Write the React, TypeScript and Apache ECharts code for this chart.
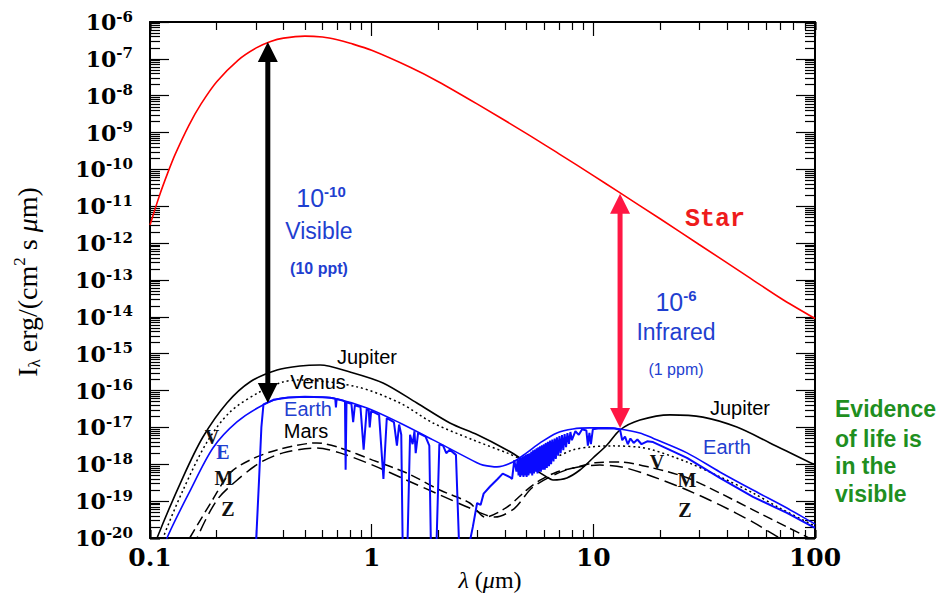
import React, { useEffect, useRef } from "react";
import * as echarts from "echarts";

// ---------- data (wavelength in micron, intensity in erg/(cm2 s um)) ----------
const starLambda = [0.1, 0.11, 0.12, 0.13, 0.15, 0.17, 0.2, 0.25, 0.3, 0.35, 0.4, 0.5, 0.6, 0.7, 0.8, 1, 1.5, 2, 3, 5, 7, 10, 13, 20, 30, 50, 70, 100];
const starValue = [3.1e-12, 1.85e-11, 7.8e-11, 2.6e-10, 1.6e-9, 6.0e-9, 2.4e-8, 9.3e-8, 1.95e-7, 2.95e-7, 3.65e-7, 4.15e-7, 3.9e-7, 3.3e-7, 2.65e-7, 1.7e-7, 5.8e-8, 2.4e-8, 5.9e-9, 9.4e-10, 2.65e-10, 6.8e-11, 2.45e-11, 4.6e-12, 9.2e-13, 1.22e-13, 3.2e-14, 9e-15];

const jupiterLambda = [0.105, 0.1076, 0.141, 0.1733, 0.2223, 0.2823, 0.3741, 0.4752, 0.5848, 0.7983, 1.125, 1.6, 2.254, 3.0, 4.076, 4.664, 5.343, 6.177, 6.573, 7.6, 8.7, 9.96, 11.52, 13.18, 16.23, 22.17, 31.2, 44.4, 62.6, 95.3, 100];
const jupiterValue = [5.0e-21, 1.0e-20, 4.5e-19, 5.5e-18, 4.6e-17, 1.71e-16, 3.62e-16, 4.65e-16, 4.94e-16, 3.2e-16, 1.61e-16, 4.6e-17, 1.32e-17, 6.3e-18, 2.45e-18, 1.48e-18, 7.9e-19, 4.5e-19, 3.76e-19, 4.27e-19, 7.0e-19, 1.48e-18, 3.34e-18, 8.5e-18, 1.58e-17, 2.19e-17, 1.9e-17, 1.02e-17, 3.8e-18, 1.1e-18, 1.0e-18];

const venusLambda = [0.112, 0.1145, 0.141, 0.1807, 0.2296, 0.3133, 0.3981, 0.4752, 0.859, 1.342, 1.891, 2.864, 4.076, 4.9, 5.8, 6.9, 8.09, 9.66, 12.25, 16.2, 18.57, 26.45, 37.2, 52.5, 68, 97.9, 100];
const venusValue = [5e-21, 1.0e-20, 2.0e-19, 4.0e-18, 2.63e-17, 9.3e-17, 1.71e-16, 1.94e-16, 1.26e-16, 4.6e-17, 1.32e-17, 4.6e-18, 2.04e-18, 1.32e-18, 1.26e-18, 1.66e-18, 2.45e-18, 2.95e-18, 3.16e-18, 2.9e-18, 2.45e-18, 1.15e-18, 4.6e-19, 1.66e-19, 6.9e-20, 2.24e-20, 2.1e-20];

const earthEnvLambda = [0.117, 0.1193, 0.1514, 0.1923, 0.2468, 0.3236, 0.3981, 0.5662, 0.6683, 0.9527, 1.342, 1.891, 2.985, 3.18, 3.675, 4.34, 5.0, 5.75, 6.85, 8.09, 9.66, 11.5, 13.18, 16.2, 18.57, 26.45, 37.2, 52.5, 74.7, 97.9, 100];
const earthEnvValue = [5e-21, 1.0e-20, 1.87e-19, 2.77e-18, 1.41e-17, 4.06e-17, 6.3e-17, 6.7e-17, 6.3e-17, 3.37e-17, 1.32e-17, 4.6e-18, 1.1e-18, 9.5e-19, 8.5e-19, 1.15e-18, 2.04e-18, 3.8e-18, 7.1e-18, 9.1e-18, 9.7e-18, 9.7e-18, 9.1e-18, 7.1e-18, 5.1e-18, 2.04e-18, 6.2e-19, 2.0e-19, 6.5e-20, 2.57e-20, 2.4e-20];

// detailed Earth spectrum, visible / near-IR part (absorption bands)
const earthSpecVisLambda = [0.300, 0.310, 0.318, 0.325, 0.36, 0.42, 0.50, 0.60, 0.66, 0.685, 0.69, 0.695, 0.74, 0.758, 0.763, 0.770, 0.81, 0.825, 0.84, 0.89, 0.92, 0.95, 0.97, 0.98, 0.995, 1.08, 1.13, 1.17, 1.26, 1.30, 1.33, 1.36, 1.38, 1.45, 1.49, 1.53, 1.56, 1.58, 1.62, 1.75, 1.82, 1.85, 1.96, 2.02, 2.10, 2.17, 2.25, 2.40, 2.48, 2.75, 2.86, 2.99, 3.10, 3.20, 3.42, 3.70, 3.90, 4.20, 4.30, 4.40];
const earthSpecVisValue = [5.0e-21, 3.2e-19, 1.0e-17, 4.2e-17, 5.6e-17, 6.5e-17, 6.8e-17, 6.6e-17, 6.3e-17, 6.0e-17, 3.5e-17, 5.9e-17, 5.4e-17, 5.0e-17, 7.1e-19, 4.8e-17, 4.4e-17, 1.4e-17, 4.0e-17, 3.6e-17, 2.5e-18, 3.2e-17, 3.0e-17, 1.0e-17, 2.8e-17, 2.2e-17, 4.0e-19, 1.8e-17, 1.4e-17, 3.2e-18, 1.2e-17, 6.3e-18, 6.3e-21, 6.3e-21, 6.3e-18, 3.5e-18, 7.9e-18, 2.0e-18, 7.1e-18, 5.6e-18, 3.2e-18, 6.3e-21, 6.3e-21, 3.5e-18, 3.2e-18, 2.0e-18, 2.5e-18, 1.8e-18, 6.3e-21, 6.3e-21, 2.0e-20, 8.9e-20, 7.9e-20, 1.6e-19, 2.5e-19, 4.0e-19, 5.6e-19, 4.5e-19, 4.0e-19, 1.3e-18];
// detailed Earth spectrum, thermal-IR part (dense noisy band 4.5-8 um, O3 and CO2 features)
const earthSpecIrLambda = [4.50, 4.55, 4.60, 4.64, 4.68, 4.72, 4.76, 4.80, 4.84, 4.88, 4.92, 4.96, 5.00, 5.05, 5.10, 5.15, 5.20, 5.25, 5.30, 5.35, 5.40, 5.45, 5.50, 5.55, 5.60, 5.65, 5.70, 5.75, 5.80, 5.86, 5.92, 5.98, 6.04, 6.10, 6.17, 6.24, 6.31, 6.38, 6.45, 6.53, 6.61, 6.69, 6.77, 6.85, 6.94, 7.03, 7.12, 7.22, 7.32, 7.42, 7.53, 7.64, 7.76, 7.88, 8.00, 8.30, 8.60, 8.90, 9.30, 9.45, 9.60, 9.75, 9.95, 10.5, 11.5, 12.5, 13.2, 13.5, 13.9, 14.3, 14.7, 15.2, 15.8, 16.5, 17.5, 18.6, 26.45, 37.2, 52.5, 74.7, 97.9, 100];
const earthSpecIrValue = [6.3e-19, 1.3e-18, 5.0e-19, 1.4e-18, 4.5e-19, 1.5e-18, 5.0e-19, 1.6e-18, 4.5e-19, 1.7e-18, 5.0e-19, 1.8e-18, 4.5e-19, 1.9e-18, 5.0e-19, 2.0e-18, 5.6e-19, 2.2e-18, 5.0e-19, 2.4e-18, 5.6e-19, 2.5e-18, 6.3e-19, 2.7e-18, 5.6e-19, 2.9e-18, 6.3e-19, 3.1e-18, 6.3e-19, 3.3e-18, 7.1e-19, 3.5e-18, 7.1e-19, 3.8e-18, 7.9e-19, 4.1e-18, 8.9e-19, 4.4e-18, 1.0e-18, 4.7e-18, 1.2e-18, 5.0e-18, 1.4e-18, 5.4e-18, 1.7e-18, 5.8e-18, 2.0e-18, 6.2e-18, 2.4e-18, 6.6e-18, 2.9e-18, 7.0e-18, 3.6e-18, 7.5e-18, 4.5e-18, 7.9e-18, 6.3e-18, 8.9e-18, 8.3e-18, 3.2e-18, 7.1e-18, 3.5e-18, 8.9e-18, 9.3e-18, 9.5e-18, 9.3e-18, 8.7e-18, 4.5e-18, 5.6e-18, 3.5e-18, 5.0e-18, 3.8e-18, 4.7e-18, 3.5e-18, 4.2e-18, 4.0e-18, 1.5e-18, 4.3e-19, 1.3e-19, 4.8e-20, 2.0e-20, 1.9e-20];

const marsLambda = [0.151, 0.19, 0.2296, 0.2823, 0.3741, 0.5662, 0.719, 1.01, 1.44, 2.03, 2.77, 3.25, 4.08, 5.0, 5.75, 6.85, 8.1, 10.2, 13.2, 18.6, 26.5, 37.2, 52.5, 74.7, 91.9, 100];
const marsValue = [1.0e-20, 1.0e-19, 5.8e-19, 1.3e-18, 2.45e-18, 3.8e-18, 2.8e-18, 1.3e-18, 5.8e-19, 2.0e-19, 8.9e-20, 3.7e-20, 6.9e-20, 2.0e-19, 3.7e-19, 6.2e-19, 7.9e-19, 1.1e-18, 1.15e-18, 7.9e-19, 4.3e-19, 1.66e-19, 5.8e-20, 2.0e-20, 1.07e-20, 7.9e-21];

const zLambda = [0.16, 0.163, 0.2005, 0.2468, 0.3133, 0.3981, 0.566, 0.719, 1.01, 1.44, 2.03, 2.77, 3.6, 4.4, 5.34, 7.6, 10.7, 13.6, 18.6, 26.5, 37.2, 52.5, 68, 80];
const zValue = [5e-21, 1.0e-20, 1.07e-19, 3.7e-19, 1.1e-18, 2.04e-18, 2.75e-18, 2.04e-18, 9.5e-19, 3.7e-19, 1.48e-19, 6.5e-20, 3.7e-20, 6.3e-20, 2.4e-19, 7.1e-19, 9.5e-19, 8.3e-19, 4.6e-19, 2.0e-19, 7.9e-20, 2.7e-20, 1.07e-20, 6.3e-21];

// contrast arrows: wavelength, star level (top tip), planet level (bottom tip)
const arrowLambda = [0.34, 13.2];
const arrowTop = [2.85e-7, 2.2e-11];
const arrowBottom = [4.6e-17, 9.6e-18];

// axis extents in decades (exponents) and log minor-tick multipliers
const yExpMin = -20, yExpMax = -6;
const xExpMin = -1, xExpMax = 2;
const minorMultipliers = [2, 3, 4, 5, 6, 7, 8, 9];

// ---------- layout / styles ----------
const GRID = { left: 150, top: 22, width: 665, height: 516 };
const BLUE_LINE = "#0a0aff";
const BLUE_TEXT = "#1f3fd0";
const RED_LINE = "#ff0000";
const ARROW_COLORS = ["#000000", "#ff1744"];
const GREEN = "#1f8f1f";

const toPairs = (xs: number[], ys: number[]) => xs.map((x, i) => [x, ys[i]]);

function txt(x: number, y: number, text: string, style: any, extra: any = {}) {
  return {
    type: "text",
    x,
    y,
    z: 100,
    ...extra,
    style: {
      text,
      align: "center",
      verticalAlign: "middle",
      textAlign: "center",
      textVerticalAlign: "middle",
      ...style,
    },
  };
}

export default function App() {
  const ref = useRef<HTMLDivElement>(null);

  useEffect(() => {
    if (!ref.current) return;
    const chart = echarts.init(ref.current, null, { renderer: "svg" });

    const frameLine = { show: true, onZero: false, lineStyle: { color: "#000", width: 2 } };
    const tickLine = { color: "#000", width: 1.2 };
    const tickFont = { fontFamily: "DejaVu Serif", fontWeight: "bold", color: "#000" };

    const xFmt = (v: number) => {
      const e = Math.round(Math.log10(v));
      return e < 0 ? "0." + "0".repeat(-e - 1) + "1" : "1" + "0".repeat(e);
    };

    // Minor log ticks: for each multiplier m, a tick-only value axis whose range is the
    // decade range shifted by log10(m); its integer ticks then fall at m * 10^k.
    const minorAxis = (lo: number, hi: number, m: number, position: string, len: number) => {
      const f = Math.log10(m);
      return {
        type: "value", min: lo - f, max: hi - f, splitNumber: hi - lo, position,
        axisLine: { show: false, onZero: false },
        axisTick: { show: true, inside: true, length: len, lineStyle: tickLine },
        axisLabel: { show: false },
        splitLine: { show: false },
      };
    };
    const yMinorAxes: any[] = [];
    const xMinorAxes: any[] = [];
    minorMultipliers.forEach((m) => {
      yMinorAxes.push(minorAxis(yExpMin, yExpMax, m, "left", 10));
      yMinorAxes.push(minorAxis(yExpMin, yExpMax, m, "right", 10));
      xMinorAxes.push(minorAxis(xExpMin, xExpMax, m, "bottom", 8));
      xMinorAxes.push(minorAxis(xExpMin, xExpMax, m, "top", 8));
    });

    const planetFont = { fontFamily: "Liberation Sans", fontSize: 20, fill: "#000" };
    const letterFont = { fontFamily: "Liberation Serif", fontWeight: "bold", fontSize: 20, fill: "#111" };
    const noteFont = { fontFamily: "Liberation Sans", fontWeight: "bold", fontSize: 23, fill: GREEN, align: "left", textAlign: "left" };

    const option: any = {
      animation: false,
      backgroundColor: "#ffffff",
      grid: { ...GRID, containLabel: false },
      xAxis: [
        {
          type: "log", logBase: 10, min: Math.pow(10, xExpMin), max: Math.pow(10, xExpMax), position: "bottom",
          axisLine: frameLine,
          axisTick: { show: true, inside: true, length: 14, lineStyle: tickLine },
          minorTick: { show: false }, splitLine: { show: false },
          axisLabel: { formatter: xFmt, margin: 7, fontSize: 25, ...tickFont },
        },
        {
          type: "log", logBase: 10, min: Math.pow(10, xExpMin), max: Math.pow(10, xExpMax), position: "top",
          axisLine: frameLine,
          axisTick: { show: true, inside: true, length: 14, lineStyle: tickLine },
          minorTick: { show: false }, splitLine: { show: false },
          axisLabel: { show: false },
        },
        ...xMinorAxes,
      ],
      yAxis: [
        {
          type: "log", logBase: 10, min: 1e-20, max: 1e-6, show: false,
          splitLine: { show: false },
        },
        {
          type: "value", min: yExpMin, max: yExpMax, interval: 1, position: "left",
          axisLine: frameLine,
          axisTick: { show: true, inside: true, length: 19, lineStyle: tickLine },
          splitLine: { show: false },
          axisLabel: {
            margin: 17,
            formatter: (v: number) => `{b|10}{s|${Math.round(v)}}`,
            rich: {
              b: { ...tickFont, fontSize: 22, lineHeight: 26 },
              s: { ...tickFont, fontSize: 15, lineHeight: 15, verticalAlign: "top" },
            },
          },
        },
        {
          type: "value", min: yExpMin, max: yExpMax, interval: 1, position: "right",
          axisLine: frameLine,
          axisTick: { show: true, inside: true, length: 19, lineStyle: tickLine },
          splitLine: { show: false },
          axisLabel: { show: false },
        },
        ...yMinorAxes,
      ],
      series: [
        {
          type: "line", name: "Star", data: toPairs(starLambda, starValue), xAxisIndex: 0, yAxisIndex: 0,
          symbol: "none", smooth: 0.3, lineStyle: { color: RED_LINE, width: 1.6 }, z: 3,
        },
        {
          type: "line", name: "Jupiter", data: toPairs(jupiterLambda, jupiterValue), xAxisIndex: 0, yAxisIndex: 0,
          symbol: "none", smooth: 0.3, lineStyle: { color: "#000", width: 1.6 }, z: 3,
        },
        {
          type: "line", name: "Venus", data: toPairs(venusLambda, venusValue), xAxisIndex: 0, yAxisIndex: 0,
          symbol: "none", smooth: 0.3, lineStyle: { color: "#000", width: 1.5, type: [2, 3] }, z: 3,
        },
        {
          type: "line", name: "Mars", data: toPairs(marsLambda, marsValue), xAxisIndex: 0, yAxisIndex: 0,
          symbol: "none", smooth: 0.3, lineStyle: { color: "#000", width: 1.5, type: [10, 5] }, z: 3,
        },
        {
          type: "line", name: "Z", data: toPairs(zLambda, zValue), xAxisIndex: 0, yAxisIndex: 0,
          symbol: "none", smooth: 0.3, lineStyle: { color: "#000", width: 1.5, type: [13, 6] }, z: 3,
        },
        {
          type: "line", name: "Earth", data: toPairs(earthEnvLambda, earthEnvValue), xAxisIndex: 0, yAxisIndex: 0,
          symbol: "none", smooth: 0.3, lineStyle: { color: BLUE_LINE, width: 1.6 }, z: 4,
        },
        {
          type: "line", name: "Earth spectrum",
          data: toPairs(earthSpecVisLambda, earthSpecVisValue).concat(toPairs(earthSpecIrLambda, earthSpecIrValue)),
          xAxisIndex: 0, yAxisIndex: 0,
          symbol: "none", smooth: false, lineStyle: { color: BLUE_LINE, width: 2 }, z: 4,
        },
        {
          type: "custom", name: "contrast arrows", xAxisIndex: 0, yAxisIndex: 0,
          dimensions: ["x", "top", "bottom"], encode: { x: 0, y: 1 },
          data: arrowLambda.map((l, i) => [l, arrowTop[i], arrowBottom[i]]), clip: false, silent: true, z: 20,
          renderItem: (params: any, api: any) => {
            const color = ARROW_COLORS[params.dataIndex];
            const t = api.coord([api.value(0), api.value(1)]);
            const b = api.coord([api.value(0), api.value(2)]);
            const hw = 10, hh = 20;
            return {
              type: "group",
              children: [
                { type: "line", shape: { x1: t[0], y1: t[1] + hh - 2, x2: b[0], y2: b[1] - hh + 2 }, style: { stroke: color, lineWidth: 5 } },
                { type: "polygon", shape: { points: [[t[0], t[1]], [t[0] - hw, t[1] + hh], [t[0] + hw, t[1] + hh]] }, style: { fill: color } },
                { type: "polygon", shape: { points: [[b[0], b[1]], [b[0] - hw, b[1] - hh], [b[0] + hw, b[1] - hh]] }, style: { fill: color } },
              ],
            };
          },
        },
      ],
      graphic: [
        // axis titles
        txt(27, 282, "{n|I}{sub|λ}{n| erg/(cm}{sup|2}{n| s }{mu|μ}{n|m)}", {
          rich: {
            n: { fontFamily: "Liberation Serif", fontSize: 28, lineHeight: 32, fill: "#000" },
            sub: { fontFamily: "Liberation Serif", fontSize: 17, lineHeight: 17, verticalAlign: "bottom", fill: "#000" },
            sup: { fontFamily: "Liberation Serif", fontSize: 17, lineHeight: 17, verticalAlign: "top", fill: "#000" },
            mu: { fontFamily: "Liberation Serif", fontStyle: "italic", fontSize: 28, lineHeight: 32, fill: "#000" },
          },
        }, { rotation: Math.PI / 2 }),
        txt(490, 580, "{i|λ}{n| (}{i|μ}{n|m)}", {
          rich: {
            n: { fontFamily: "Liberation Serif", fontSize: 24, fill: "#000" },
            i: { fontFamily: "Liberation Serif", fontStyle: "italic", fontSize: 24, fill: "#000" },
          },
        }),
        // planet labels (left group)
        txt(367, 357, "Jupiter", planetFont),
        txt(318, 382, "Venus", planetFont),
        txt(308, 409, "Earth", { ...planetFont, fill: BLUE_TEXT }),
        txt(306, 431, "Mars", planetFont),
        txt(212, 437, "V", letterFont),
        txt(223, 452, "E", { ...letterFont, fill: BLUE_TEXT }),
        txt(224, 478, "M", letterFont),
        txt(228, 509, "Z", letterFont),
        // planet labels (right group)
        txt(740, 408, "Jupiter", planetFont),
        txt(727, 447, "Earth", { ...planetFont, fill: BLUE_TEXT }),
        txt(657, 462, "V", letterFont),
        txt(687, 480, "M", letterFont),
        txt(685, 510, "Z", letterFont),
        // star
        txt(715, 219, "Star", { fontFamily: "Liberation Mono", fontWeight: "bold", fontSize: 25, fill: "#ee1c1c" }),
        // contrast annotations
        txt(321, 198, "{b|10}{s|-10}", {
          rich: {
            b: { fontFamily: "Liberation Sans", fontSize: 25, lineHeight: 28, fill: BLUE_TEXT },
            s: { fontFamily: "Liberation Sans", fontWeight: "bold", fontSize: 15, lineHeight: 16, verticalAlign: "top", fill: BLUE_TEXT },
          },
        }),
        txt(319, 231, "Visible", { fontFamily: "Liberation Sans", fontSize: 23, fill: BLUE_TEXT }),
        txt(319, 268, "(10 ppt)", { fontFamily: "Liberation Sans", fontWeight: "bold", fontSize: 16, fill: BLUE_TEXT }),
        txt(676, 302, "{b|10}{s|-6}", {
          rich: {
            b: { fontFamily: "Liberation Sans", fontSize: 25, lineHeight: 28, fill: BLUE_TEXT },
            s: { fontFamily: "Liberation Sans", fontWeight: "bold", fontSize: 15, lineHeight: 16, verticalAlign: "top", fill: BLUE_TEXT },
          },
        }),
        txt(676, 332, "Infrared", { fontFamily: "Liberation Sans", fontSize: 23, fill: BLUE_TEXT }),
        txt(676, 369, "(1 ppm)", { fontFamily: "Liberation Sans", fontSize: 16, fill: BLUE_TEXT }),
        // green note
        txt(835, 409, "Evidence", noteFont),
        txt(835, 439, "of life is", noteFont),
        txt(835, 466, "in the", noteFont),
        txt(835, 494, "visible", noteFont),
      ],
    };

    chart.setOption(option);
    return () => chart.dispose();
  }, []);

  return (
    <div
      ref={ref}
      style={{ position: "absolute", left: 0, top: 0, width: 941, height: 596, background: "#fff" }}
    />
  );
}
